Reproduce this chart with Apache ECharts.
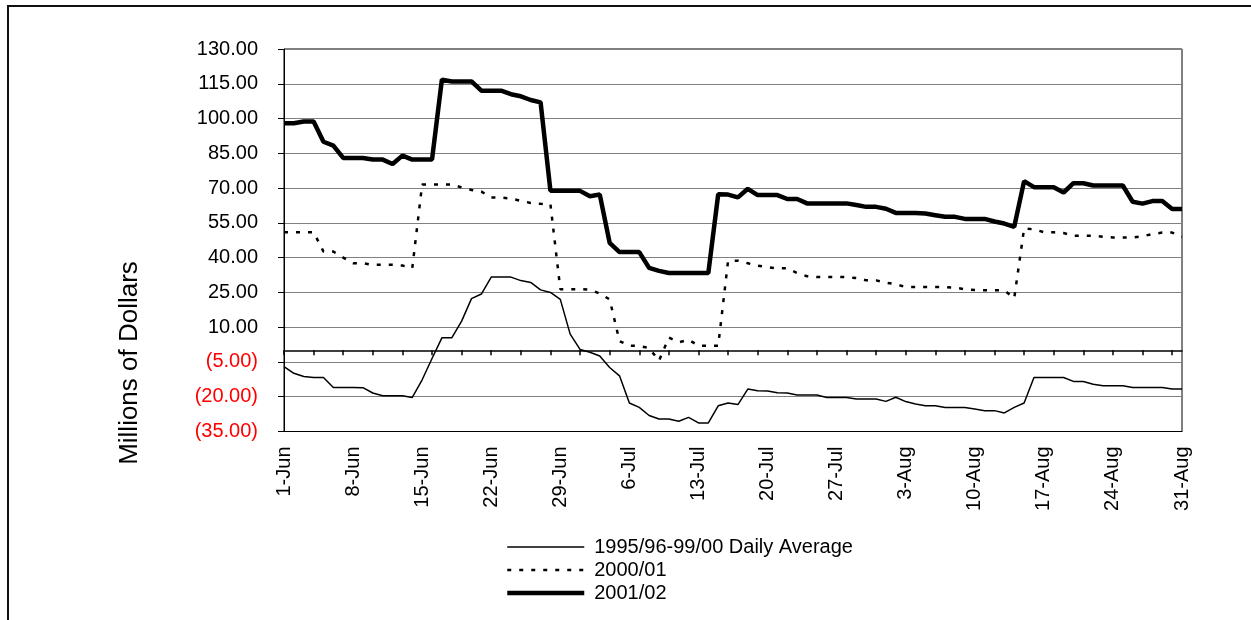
<!DOCTYPE html>
<html>
<head>
<meta charset="utf-8">
<script src="https://cdn.jsdelivr.net/npm/echarts@6/dist/echarts.min.js"></script>
<style>
    body { margin: 0; background: #fff; }
    #chart { width: 1251px; height: 620px; }
</style>
</head>
<body>
<div id="chart"></div>
<script>
// months covered by the chart (1-Jun .. 31-Aug)
var months = ['Jun', 'Jul', 'Aug'];
var monthDays = [30, 31, 31];

var yTicks = { min: -35, max: 130, step: 15 };

// 1995/96-99/00 daily average
var avgValues = [
    -7, -9.9, -11.3, -11.7, -11.7, -16, -16, -16, -16.1, -18.4,
    -19.6, -19.6, -19.6, -20.3, -12.7, -3.5, 5.4, 5.4, 12.6, 22.3,
    24.3, 31.6, 31.6, 31.6, 30.1, 29.3, 26.1, 25, 22, 7,
    0.4, -0.8, -2.4, -7.4, -11, -22.7, -24.6, -28.1, -29.6, -29.6,
    -30.6, -28.9, -31.3, -31.3, -23.9, -22.7, -23.4, -16.7, -17.4, -17.5,
    -18.3, -18.4, -19.3, -19.3, -19.3, -20.3, -20.3, -20.3, -21, -21,
    -21, -22, -20.2, -22.1, -23.1, -23.9, -23.9, -24.6, -24.6, -24.6,
    -25.3, -26, -26, -27, -24.6, -22.7, -11.7, -11.7, -11.7, -11.7,
    -13.4, -13.4, -14.6, -15.3, -15.3, -15.3, -16, -16, -16, -16,
    -16.7, -16.7
];

// 2000/01
var values2000 = [
    51, 51, 51, 51, 42.6, 42.6, 40, 37.6, 37.6, 36.9,
    36.9, 36.9, 36.6, 35.5, 71.6, 71.6, 71.6, 71.6, 70.3, 69.2,
    68.5, 65.9, 65.9, 65.5, 64.5, 63.6, 63.2, 63, 26.4, 26.4,
    26.4, 26.2, 24.5, 22, 4, 2, 1.9, 1, -4.5, 5.5,
    3.5, 4.6, 2, 2, 2, 38.5, 38.7, 37.6, 36.5, 35.9,
    35.4, 35.4, 33.3, 32, 31.6, 31.6, 31.6, 31.6, 31.2, 30.2,
    30.2, 29.2, 28.5, 27.3, 27.3, 27.3, 27.3, 27.3, 27, 26.4,
    26, 25.9, 25.9, 25.9, 22.5, 52.6, 52.2, 51, 50.9, 50.6,
    49.4, 49.4, 49.4, 49, 48.7, 48.7, 48.7, 49.2, 50.2, 50.8,
    50.8, 49
];

// 2001/02
var values2001 = [
    98, 98, 98.7, 98.7, 90, 88.3, 83, 83, 83, 82.3,
    82.3, 80.4, 84, 82.3, 82.3, 82.3, 116.8, 116, 116, 116,
    112, 112, 112, 110.5, 109.6, 108, 107, 68.8, 68.8, 68.8,
    68.8, 66.5, 67.2, 46.4, 42.4, 42.4, 42.4, 35.6, 34.3, 33.4,
    33.4, 33.4, 33.4, 33.4, 67.3, 67.2, 66, 69.7, 67, 67,
    67, 65.3, 65.3, 63.4, 63.4, 63.4, 63.4, 63.4, 62.7, 61.9,
    61.9, 61.1, 59.3, 59.3, 59.3, 59, 58.3, 57.6, 57.6, 56.7,
    56.7, 56.7, 55.6, 54.7, 53.3, 73, 70.4, 70.4, 70.4, 68.1,
    72.1, 72.1, 71.1, 71.1, 71.1, 71.1, 64.1, 63.3, 64.4, 64.4,
    61, 61
];

var seriesNames = ['1995/96-99/00 Daily Average', '2000/01', '2001/02'];
var seriesLines = [
    { color: '#000', width: 1.5, type: 'solid' },
    { color: '#000', width: 2.5, type: [4, 8] },
    { color: '#000', width: 4.5, type: 'solid' }
];

function buildDays() {
    var days = [];
    months.forEach(function (m, k) {
        for (var d = 1; d <= monthDays[k]; d++) {
            days.push(d + '-' + m);
        }
    });
    return days;
}

function formatMoney(value) {
    if (value < 0) {
        return '(' + Math.abs(value).toFixed(2) + ')';
    }
    return value.toFixed(2);
}

var font = "'Liberation Sans', Arial, sans-serif";
var days = buildDays();

var myChart = echarts.init(document.getElementById('chart'), null, { renderer: 'canvas' });

var legendData = seriesNames.map(function (name, i) {
    return {
        name: name,
        itemStyle: { opacity: 0 },
        lineStyle: seriesLines[i]
    };
});

var option = {
    animation: false,
    backgroundColor: '#fff',
    textStyle: { fontFamily: font, color: '#000' },
    grid: {
        left: 284,
        right: 69,
        top: 49,
        bottom: 188.5,
        show: true,
        borderColor: '#000',
        borderWidth: 1,
        backgroundColor: 'transparent'
    },
    graphic: [
        {
            type: 'rect',
            shape: { x: 8, y: 6, width: 1400, height: 800 },
            style: { fill: 'none', stroke: '#111', lineWidth: 2 },
            silent: true
        },
        {
            type: 'text',
            x: 130,
            y: 363,
            rotation: Math.PI / 2,
            style: {
                text: 'Millions of Dollars',
                font: '26px ' + font,
                fill: '#000',
                textAlign: 'center',
                textVerticalAlign: 'middle'
            }
        }
    ],
    legend: {
        orient: 'vertical',
        left: 505,
        top: 537,
        itemWidth: 77,
        itemHeight: 20,
        itemGap: 3,
        padding: 0,
        itemStyle: { opacity: 0 },
        data: legendData,
        textStyle: { fontSize: 20, fontFamily: font, color: '#000', padding: [0, 0, 0, 5] }
    },
    xAxis: [
        {
            type: 'category',
            data: days,
            boundaryGap: false,
            position: 'bottom',
            axisLine: { onZero: false, lineStyle: { color: '#000', width: 1 } },
            axisTick: { show: false },
            axisLabel: {
                interval: 6,
                rotate: 90,
                margin: 15,
                fontSize: 20,
                fontFamily: font,
                color: '#000'
            },
            splitLine: { show: false }
        },
        {
            type: 'category',
            data: days,
            boundaryGap: false,
            position: 'bottom',
            axisLine: { onZero: true, lineStyle: { color: '#000', width: 1.5 } },
            axisTick: { show: true, interval: 2, length: 5, lineStyle: { color: '#000', width: 1.5 } },
            axisLabel: { show: false },
            splitLine: { show: false }
        }
    ],
    yAxis: {
        type: 'value',
        min: yTicks.min,
        max: yTicks.max,
        interval: yTicks.step,
        axisLine: { show: true, lineStyle: { color: '#000', width: 1 } },
        axisTick: { show: true, length: 6, lineStyle: { color: '#000' } },
        axisLabel: {
            margin: 26,
            fontSize: 20,
            fontFamily: font,
            formatter: formatMoney,
            color: function (value) {
                return value < 0 ? '#ff0000' : '#000';
            }
        },
        splitLine: { show: true, lineStyle: { color: '#808080', width: 1 } }
    },
    series: [
        {
            name: seriesNames[0],
            type: 'line',
            data: avgValues,
            symbol: 'none',
            z: 3,
            lineStyle: seriesLines[0],
            itemStyle: { color: '#000' }
        },
        {
            name: seriesNames[1],
            type: 'line',
            data: values2000,
            symbol: 'none',
            z: 3,
            lineStyle: seriesLines[1],
            itemStyle: { color: '#000' }
        },
        {
            name: seriesNames[2],
            type: 'line',
            data: values2001,
            symbol: 'none',
            z: 4,
            lineStyle: seriesLines[2],
            itemStyle: { color: '#000' }
        }
    ]
};

myChart.setOption(option);
</script>
</body>
</html>
